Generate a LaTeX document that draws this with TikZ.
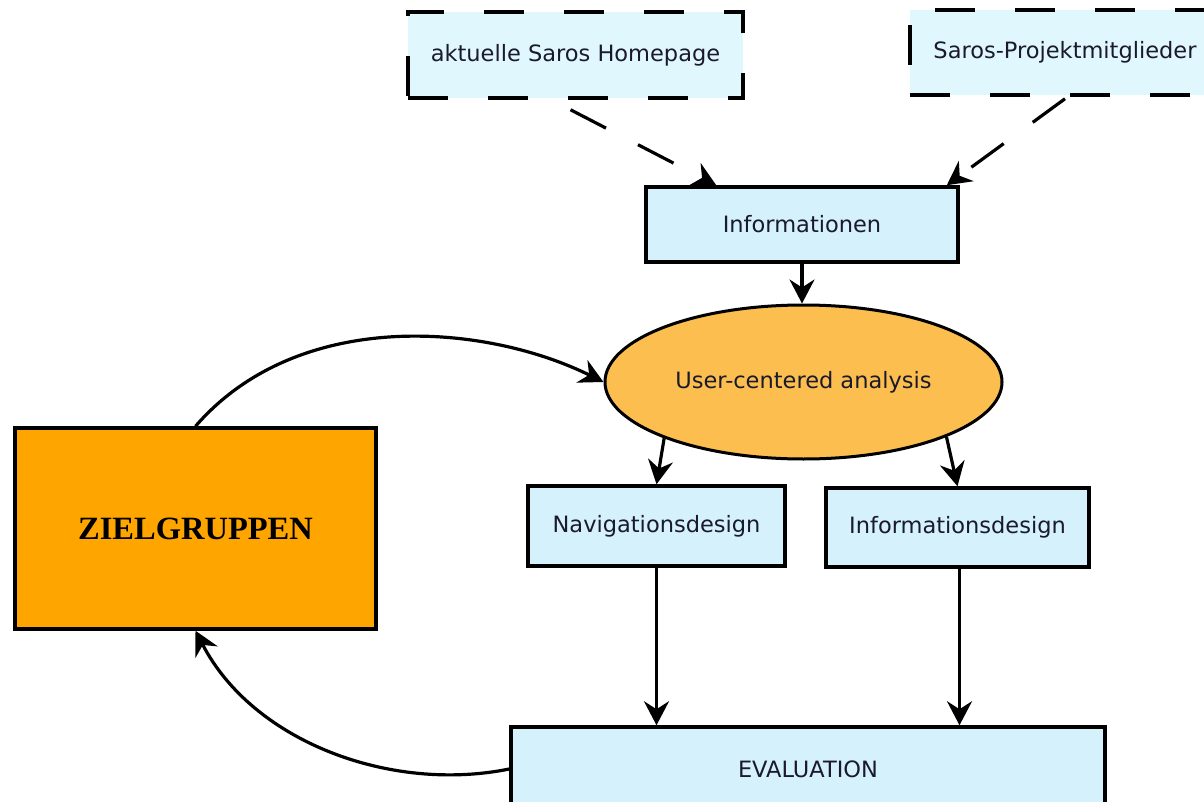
\documentclass[tikz,border=0pt]{standalone}
\usepackage{fontspec}
\setmainfont{DejaVu Sans}
\newfontfamily\zielfont{Liberation Serif}
\usetikzlibrary{shapes.geometric,arrows.meta,calc}
\definecolor{boxblue}{HTML}{D4F1FC}
\definecolor{dashblue}{HTML}{E1F7FE}
\definecolor{ellorange}{HTML}{FCBF4F}
\definecolor{zielorange}{HTML}{FFA500}
\definecolor{txtcol}{HTML}{1A1A2A}
\begin{document}
\begin{tikzpicture}[x=1pt,y=-1pt,
  txt/.style={font=\fontsize{22.5}{27}\selectfont, text=txtcol},
  bluebox/.style={txt, draw=black, line width=3.5pt, fill=boxblue, inner sep=0pt},
  srcbox/.style={txt, draw=black, line width=3.5pt, fill=dashblue, inner sep=0pt, dash pattern=on 40pt off 40pt},
  conn/.style={line width=3.2pt, -{Stealth[length=24pt,width=25pt,inset=8pt]}},
  dconn/.style={conn, dash pattern=on 40pt off 36pt}
]
\useasboundingbox (0,0) rectangle (1204,802);
\fill[white] (0,0) rectangle (1204,802);

\node[srcbox, minimum width=335pt, minimum height=86pt] (home) at (575.5,55) {aktuelle Saros Homepage};
\node[srcbox, minimum width=310pt, minimum height=85pt] (proj) at (1065,52.5) {Saros-Projektmitglieder};
\node[bluebox, minimum width=312pt, minimum height=75pt] (info) at (802,224.5) {Informationen};
\node[ellipse, txt, draw=black, line width=3pt, fill=ellorange, inner sep=0pt,
      minimum width=397pt, minimum height=154pt] (ell) at (803.5,382) {User-centered analysis};
\node[bluebox, minimum width=257pt, minimum height=80pt] (nav) at (656.5,526) {Navigationsdesign};
\node[bluebox, minimum width=263pt, minimum height=79pt] (infd) at (957.5,527.5) {Informationsdesign};
\node[draw=black, line width=3.5pt, fill=zielorange, inner sep=0pt,
      minimum width=361pt, minimum height=201pt,
      font=\zielfont\bfseries\fontsize{32.5}{38}\selectfont, text=black] (ziel) at (195.5,528.5) {ZIELGRUPPEN};
\node[bluebox, minimum width=594pt, minimum height=84pt] (eval) at (808,769) {EVALUATION};

\coordinate (h1) at ($(home.south)+(-5,10)$);
\coordinate (p1) at ($(proj.south)+(0,2)$);
\draw[dconn] (h1) -- ($(info.north west)+(72,0)$);
\draw[dconn] (p1) -- ($(info.north east)+(-13,0)$);
\draw[conn] (info.south) -- (info.south |- ell.north);
\draw[conn] (ell.202) -- (nav.north);
\draw[conn] (ell.339) -- (infd.north);
\draw[conn] (nav.south) -- (nav.south |- eval.north);
\draw[conn] ($(infd.south)+(2,0)$) coordinate (i1) -- (i1 |- eval.north);
\draw[conn] (ziel.north) .. controls (298,308) and (484,323) .. (ell.west);
\draw[conn] (eval.west) .. controls (391,793) and (253,742) .. (ziel.south);
\end{tikzpicture}
\end{document}
